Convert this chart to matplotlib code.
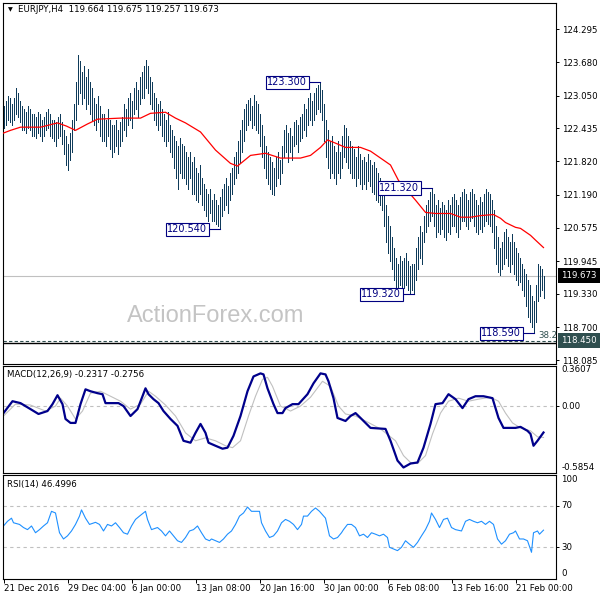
import matplotlib
matplotlib.use('Agg')
import matplotlib.pyplot as plt

plt.rcParams['font.family'] = ['DejaVu Sans']

# ---------------- data ----------------
high = [122.85,122.95,123.05,123.00,122.90, 123.00,123.19,123.10,122.95,122.85,
        122.80,122.75,122.85,122.80,122.70, 122.70,122.65,122.75,122.70,122.60,
        122.65,122.75,122.80,122.70,122.60, 122.60,122.55,122.65,122.70,122.55,
        122.40,122.30,122.15,122.35,122.60, 122.90,123.30,123.81,123.70,123.50,
        123.60,123.40,123.55,123.30,123.20, 123.00,122.90,123.05,122.85,122.70,
        122.70,122.60,122.80,122.60,122.50, 122.50,122.60,122.40,122.55,122.65,
        122.90,122.80,123.00,123.10,122.95, 123.20,123.30,123.15,123.40,123.50,
        123.60,123.72,123.60,123.40,123.30, 123.10,123.00,122.90,122.95,122.80,
        122.70,122.60,122.75,122.50,122.40, 122.30,122.20,122.10,122.25,122.15,
        122.10,122.00,121.90,122.00,121.80, 121.90,121.70,121.60,121.75,121.50,
        121.40,121.30,121.20,121.30,121.10, 121.20,121.10,121.00,121.15,121.30,
        121.40,121.50,121.35,121.60,121.70, 121.90,122.00,122.20,122.40,122.60,
        122.80,122.90,122.97,123.00,122.85, 123.06,122.95,122.90,122.70,122.50,
        122.30,122.10,122.00,121.90,121.80, 121.70,121.90,122.00,121.85,122.10,
        122.40,122.50,122.35,122.45,122.30, 122.55,122.60,122.50,122.65,122.70,
        122.90,122.80,123.00,123.10,122.95, 123.10,123.20,123.25,123.30,123.15,
        122.90,122.60,122.40,122.20,122.30, 122.10,122.00,122.20,122.00,122.30,
        122.50,122.45,122.30,122.20,122.10, 122.05,121.90,122.10,121.95,121.85,
        121.90,121.80,121.95,121.85,121.75, 121.80,121.70,121.60,121.50,121.45,
        121.30,121.00,120.80,120.60,120.40, 120.20,120.00,119.90,120.05,119.95,
        120.00,120.10,119.95,119.85,119.90, 119.90,120.20,120.40,120.60,120.50,
        120.80,121.00,121.10,121.25,121.32, 121.20,121.00,121.10,120.95,121.05,
        121.00,120.90,121.10,121.00,121.15, 121.20,121.10,121.00,121.15,121.25,
        121.30,121.20,121.10,121.25,121.30, 121.20,121.10,121.00,121.15,121.05,
        121.20,121.30,121.25,121.20,121.10, 120.90,120.60,120.40,120.20,120.30,
        120.50,120.55,120.40,120.30,120.45, 120.30,120.20,120.10,120.00,119.90,
        119.80,119.70,119.60,119.50,119.30, 119.20,119.50,119.90,119.85,119.80,119.675]
low = [122.45,122.50,122.60,122.55,122.50, 122.60,122.70,122.65,122.55,122.40,
       122.40,122.35,122.45,122.40,122.30, 122.30,122.25,122.35,122.30,122.20,
       122.30,122.40,122.45,122.30,122.25, 122.20,122.10,122.25,122.30,122.15,
       121.95,121.75,121.65,121.85,122.00, 122.40,122.60,122.90,123.10,122.90,
       123.00,122.80,122.90,122.70,122.60, 122.50,122.40,122.55,122.30,122.20,
       122.20,122.10,122.30,122.05,121.90, 122.00,122.10,121.95,122.10,122.20,
       122.40,122.30,122.50,122.60,122.45, 122.70,122.80,122.65,122.90,123.00,
       123.00,123.20,123.10,122.90,122.80, 122.60,122.50,122.40,122.50,122.30,
       122.20,122.10,122.20,122.00,121.90, 121.70,121.50,121.30,121.60,121.50,
       121.50,121.40,121.30,121.50,121.20, 121.20,121.10,121.05,121.20,121.00,
       120.90,120.80,120.70,120.85,120.70, 120.70,120.65,120.60,120.54,120.80,
       120.90,121.00,120.85,121.10,121.20, 121.40,121.50,121.60,121.80,122.00,
       122.20,122.40,122.50,122.60,122.45, 122.50,122.40,122.35,122.10,121.90,
       121.70,121.50,121.40,121.30,121.20, 121.18,121.35,121.50,121.40,121.60,
       121.90,122.00,121.80,122.00,121.85, 122.10,122.15,122.00,122.20,122.25,
       122.40,122.30,122.50,122.60,122.50, 122.60,122.70,122.80,122.75,122.60,
       122.20,121.90,121.70,121.50,121.60, 121.50,121.40,121.60,121.50,121.70,
       121.90,121.80,121.70,121.60,121.50, 121.50,121.35,121.50,121.40,121.30,
       121.40,121.30,121.45,121.35,121.25, 121.20,121.10,121.05,121.00,120.90,
       120.60,120.30,120.10,119.95,119.80, 119.60,119.45,119.40,119.50,119.35,
       119.45,119.50,119.40,119.35,119.40, 119.32,119.60,119.80,120.00,119.90,
       120.30,120.50,120.60,120.70,120.80, 120.60,120.40,120.50,120.45,120.55,
       120.40,120.35,120.50,120.45,120.60, 120.60,120.50,120.40,120.55,120.70,
       120.70,120.60,120.55,120.70,120.75, 120.60,120.50,120.45,120.55,120.50,
       120.60,120.70,120.65,120.60,120.50, 120.20,119.90,119.75,119.68,119.80,
       119.90,120.00,119.85,119.75,119.90, 119.70,119.60,119.50,119.55,119.40,
       119.30,119.10,118.90,118.80,118.70, 118.59,118.80,119.20,119.30,119.40,119.257]

ma_idx = [0,3.5,8.5,18.5,27,31.5,36,42,47,58.5,68.5,73.5,81,86,91,98.5,106,113.5,117,123.5,
          131,138.5,148.5,153.5,158.5,162,166,171,178.5,183.5,188.5,193.5,197.5,206,211,216,
          223.5,228.5,233.5,238.5,245,248.5,251,256,258.5,263.5,266,270]
ma_val = [122.35,122.40,122.46,122.46,122.54,122.48,122.40,122.52,122.61,122.63,122.63,122.72,
          122.74,122.63,122.54,122.37,122.03,121.78,121.73,121.93,121.97,121.88,121.88,121.93,
          122.08,122.22,122.16,122.08,122.08,122.01,121.88,121.75,121.46,121.09,120.86,120.84,
          120.84,120.77,120.77,120.80,120.82,120.75,120.67,120.58,120.56,120.43,120.34,120.20]

macd_idx = [0,4.5,8.5,13.5,17.5,22,24.5,27,29.5,31,33.5,36,38.5,41,43.5,47,49.5,51,54.5,57.5,
            60,63.5,67,69.5,71,72.5,75,77.5,80,83.5,87,90,93.5,96,98.5,101,102.5,106,109.5,112,
            115,118.5,122,125,128.5,130,132,135,137,139.5,141,144.5,147.5,152,155,158.5,161,162.5,
            165,167,171,173.5,176,178.5,183.5,191,193.5,197,200,203.5,207,210,213.5,216,219.5,
            222.5,226,229.5,232.5,236,240,244.5,247.5,250,256,258.5,262,263.5,265,267,270]
macd_val = [-0.060,0.045,0.028,-0.025,-0.068,-0.042,0.019,0.098,0.019,-0.112,-0.147,-0.147,0.019,
            0.150,0.133,0.116,0.107,0.028,0.028,0.028,0.002,-0.086,-0.025,0.089,0.159,0.107,0.063,
            0.028,-0.042,-0.112,-0.173,-0.305,-0.322,-0.235,-0.156,-0.235,-0.322,-0.349,-0.375,
            -0.366,-0.261,-0.086,0.133,0.264,0.291,0.282,0.159,0.019,-0.060,-0.060,-0.016,0.019,
            0.019,0.107,0.203,0.291,0.282,0.221,0.072,-0.103,-0.130,-0.086,-0.060,-0.103,-0.191,
            -0.200,-0.305,-0.480,-0.541,-0.506,-0.497,-0.366,-0.156,0.019,0.028,0.107,0.063,-0.016,
            0.063,0.089,0.089,0.072,-0.103,-0.191,-0.191,-0.182,-0.217,-0.244,-0.349,-0.305,-0.2317]
sig_idx = [0,6,13.5,21,26,28.5,32,36,39.5,43.5,48.5,53.5,58.5,63.5,68.5,72.5,76,81,86,91,96,101,
           106,111,114.5,118.5,122.5,126,129.5,132,134.5,138.5,143.5,148.5,153.5,159.5,163.5,167.5,
           171,176,181,188.5,196,200,203.5,207,211,214.5,218.5,222.5,227.5,232.5,237.5,243.5,247.5,
           251,254.5,258.5,263.5,267,270]
sig_val = [-0.086,0.019,0.011,-0.042,0.002,0.072,0.002,-0.112,-0.042,0.116,0.133,0.089,0.045,-0.025,
           0.019,0.133,0.089,0.011,-0.086,-0.235,-0.305,-0.279,-0.305,-0.349,-0.366,-0.305,-0.086,
           0.089,0.238,0.256,0.177,0.002,-0.042,0.002,0.080,0.221,0.177,0.002,-0.068,-0.086,-0.130,
           -0.200,-0.305,-0.436,-0.497,-0.506,-0.436,-0.244,-0.060,0.045,0.072,0.045,0.063,0.080,
           0.045,-0.060,-0.147,-0.191,-0.217,-0.270,-0.2756]

rsi_idx = [0,2,4,5,8,10,12,14,16,18,20,22,24,26,28,30,32,34,36,38,39,41,43,46,48,50,52,54,56,58,
           60,62,64,66,68,71,72,74,77,79,81,83,85,87,89,91,93,95,97,99,101,103,104,106,108,110,
           112,114,116,118,120,122,124,126,128,129,131,133,135,137,139,141,143,145,147,149,150,
           152,154,156,158,161,163,165,167,169,170,172,174,176,178,180,182,184,186,188,190,192,
           193,195,197,199,201,203,205,207,209,211,213,214,216,218,220,222,224,226,229,231,233,
           235,237,239,241,243,245,247,249,251,253,255,256,258,260,262,264,265,267,268,270]
rsi_val = [50.5,55,58,53.6,52,49,47,50.5,44,47,50.5,53.6,64.6,63,44,38,41,45.7,52,60,66,58,52,
           54,52,45.7,52,50.5,53.6,49,44,42.6,50.5,56.8,60,64.6,56.8,47,49,45.7,41,45.7,41,36.3,
           34.7,39.4,45.7,47,50.5,44,38,36.3,38,36.3,34.7,38,42.6,45.7,52,60,63,68.7,64.6,64.6,
           64.6,53.6,45.7,39.4,41,45.7,53.6,56.8,55,52,47,52,60,60,64.6,67.8,64.6,58,41,38,39.4,
           44,47,52,52,49,41,42.6,39.4,44,42.6,41,42.6,39.4,30,28.4,26.8,30,36.3,33,30,34.7,41,
           47,55,63,56.8,49,56.8,58,49,47,45.7,55,56.8,55,53.6,55,52,55,52,38,33,36.3,42.6,44,
           45.7,38,38,36.3,25.2,44,45.7,42.6,46.4996]

price_ticks = [124.295,123.680,123.050,122.435,121.820,121.190,120.575,119.945,119.330,118.700,118.085]
date_idx = [0,32,64,96,128,160,192,224,256]
date_lbl = ['21 Dec 2016','29 Dec 04:00','6 Jan 00:00','13 Jan 08:00','20 Jan 16:00',
            '30 Jan 00:00','6 Feb 08:00','13 Feb 16:00','21 Feb 00:00']
swing_idx = [158, 108, 214, 205, 265]
swing_val = [123.300, 120.540, 121.320, 119.320, 118.590]
last_price = 119.673
fib_level = 118.450
support_line = 118.414

# ---------------- figure ----------------
W = H = 600
fig = plt.figure(figsize=(6, 6), dpi=100)
fig.patch.set_facecolor('white')

def add_ax(l, t, r, b):
    return fig.add_axes([l / W, 1 - b / H, (r - l) / W, (b - t) / H])

ax = add_ax(2.5, 2.5, 556, 363.5)
am = add_ax(2.5, 365.5, 556, 472.5)
ar = add_ax(2.5, 474.5, 556, 578.5)

FS = 6.2
for a in (ax, am, ar):
    for s in a.spines.values():
        s.set_linewidth(0.8)
        s.set_color('black')
    a.set_xlim(-0.5, 276.25)
    a.yaxis.tick_right()
    a.tick_params(axis='y', length=2.5, width=0.7, direction='out', labelsize=FS, pad=1.8,
                  labelleft=False, labelright=False)
    a.tick_params(axis='x', bottom=False, labelbottom=False)

# main
n = len(high)
idx = list(range(n))
ax.set_ylim(118.024, 124.80)
ax.axhline(last_price, color='#C0C0C0', lw=0.8, zorder=1)
bars = ax.vlines(idx, low, high, colors='#0f3b5a', linewidth=0.72, zorder=3)
bars.set_antialiased(False)
ax.plot(ma_idx, ma_val, color='#FF0000', lw=0.9, zorder=4)
ax.axhline(fib_level, color='#2F4F4F', lw=0.8, ls=(0, (3, 2)), zorder=2)
ax.axhline(support_line, color='black', lw=1.0, zorder=2)
ax.set_yticks(price_ticks)
ax.set_yticklabels([f'{t:.3f}' for t in price_ticks])
ax.tick_params(axis='y', labelright=True)
ax.text(267.3, fib_level + 0.01, '38.2', fontsize=FS, color='#2F4F4F', ha='left', va='bottom')

for i, v in zip(swing_idx, swing_val):
    ax.text(i - 6.1, v, f'{v:.3f}', ha='right', va='center', fontsize=7, color='#000080', zorder=6,
            bbox=dict(boxstyle='square,pad=0.18', fc='white', ec='#000080', lw=0.8))
    ax.plot([i - 5.2, i], [v, v], color='#000080', lw=0.8, zorder=5)

def rlabel(a, y, s, va='center', fc=None, color='black'):
    kw = dict(xy=(1, y), xycoords=('axes fraction', 'data'), xytext=(3.9, 0),
              textcoords='offset points', ha='left', va=va, fontsize=FS, color=color,
              annotation_clip=False)
    if fc:
        kw['bbox'] = dict(boxstyle='square,pad=0.35', fc=fc, ec=fc, lw=0)
    a.annotate(s, **kw)

rlabel(ax, last_price, f'{last_price:.3f}', fc='black', color='white')
rlabel(ax, fib_level, f'{fib_level:.3f}', fc='#2F4F4F', color='white')

# MACD
am.set_ylim(-0.5854, 0.3607)
am.axhline(0, color='#C0C0C0', lw=0.8, ls=(0, (3, 3)))
am.plot(sig_idx, sig_val, color='#C0C0C0', lw=0.8)
am.plot(macd_idx, macd_val, color='#00008B', lw=1.6)
am.set_yticks([0.0])
rlabel(am, 0.3607, '0.3607', va='top')
rlabel(am, 0.0, '0.00')
rlabel(am, -0.5854, '-0.5854', va='bottom')

# RSI
ar.set_ylim(0, 100)
for lv in (70, 30):
    ar.axhline(lv, color='#C0C0C0', lw=0.8, ls=(0, (3, 3)))
ar.plot(rsi_idx, rsi_val, color='#1E90FF', lw=0.8)
ar.set_yticks([70, 30])
rlabel(ar, 100, '100', va='top')
rlabel(ar, 70, '70')
rlabel(ar, 30, '30')
rlabel(ar, 0, '0', va='bottom')
ar.set_xticks(date_idx)
ar.set_xticklabels(date_lbl, ha='left')
ar.tick_params(axis='x', bottom=True, labelbottom=True, length=3, width=0.7, labelsize=FS, pad=1)

# overlay texts
fig.text(8 / W, 1 - 10 / H, '\u25bc', fontsize=4.5, va='center', ha='left')
fig.text(18 / W, 1 - 10 / H, 'EURJPY,H4  119.664 119.675 119.257 119.673', fontsize=FS,
         va='center', ha='left')
fig.text(7 / W, 1 - 374 / H, 'MACD(12,26,9) -0.2317 -0.2756', fontsize=FS, va='center', ha='left')
fig.text(7 / W, 1 - 484 / H, 'RSI(14) 46.4996', fontsize=FS, va='center', ha='left')
fig.text(216 / W, 1 - 316 / H, 'ActionForex.com', fontsize=17, color='#C4C4C4',
         family='Liberation Sans', ha='center', va='center')

fig.savefig('out.png', dpi=100)
